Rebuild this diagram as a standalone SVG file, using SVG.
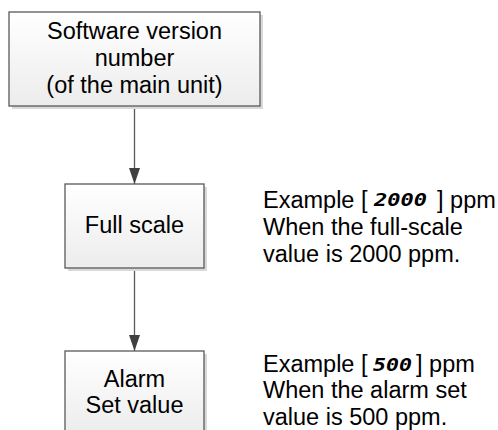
<svg xmlns="http://www.w3.org/2000/svg" width="498" height="430" viewBox="0 0 498 430">
<defs>
<linearGradient id="g" x1="0" y1="0" x2="0" y2="1">
<stop offset="0" stop-color="#ffffff"/>
<stop offset="1" stop-color="#ececec"/>
</linearGradient>
<marker id="ah" markerUnits="userSpaceOnUse" markerWidth="16" markerHeight="11" refX="16" refY="5.5" orient="auto" viewBox="0 0 16 11">
<path d="M0,0 L16,5.5 L0,11 Z" fill="#404040"/>
</marker>
</defs>
<style>
.shadow{fill:#d9d9d9;}
.box{fill:url(#g);stroke:#595959;stroke-width:1.3;}
.t{font-family:"Liberation Sans",Arial,sans-serif;font-size:23.5px;fill:#000;}
.c{text-anchor:middle;}
.seg{font-family:"DejaVu Sans Mono","Liberation Mono",monospace;font-weight:bold;font-style:italic;font-size:17px;fill:#000;}
.conn{stroke:#595959;stroke-width:1.3;fill:none;}
</style>
<g id="connectors">
<line class="conn" x1="134.5" y1="106" x2="134.5" y2="184" marker-end="url(#ah)"/>
<line class="conn" x1="134.5" y1="268" x2="134.5" y2="351" marker-end="url(#ah)"/>
</g>
<g id="node-software">
<rect class="shadow" x="12" y="15" width="251" height="94"/>
<rect class="box" x="9" y="12" width="251" height="94"/>
<text class="t c" x="134.5" y="39">Software version</text>
<text class="t c" x="134.5" y="66">number</text>
<text class="t c" x="134.5" y="93">(of the main unit)</text>
</g>
<g id="node-fullscale">
<rect class="shadow" x="68" y="187" width="139" height="84"/>
<rect class="box" x="65" y="184" width="139" height="84"/>
<text class="t c" x="134.5" y="233">Full scale</text>
</g>
<g id="node-alarm">
<rect class="shadow" x="68" y="354" width="139" height="84"/>
<rect class="box" x="65" y="351" width="139" height="84"/>
<text class="t c" x="134.5" y="387">Alarm</text>
<text class="t c" x="134.5" y="413">Set value</text>
</g>
<g id="note-fullscale">
<text class="t" x="263" y="208">Example [<tspan x="437">] ppm</tspan></text>
<text class="seg" x="374" y="206" textLength="53" lengthAdjust="spacingAndGlyphs">2000</text>
<text class="t" x="263" y="235">When the full-scale</text>
<text class="t" x="263" y="262">value is 2000 ppm.</text>
</g>
<g id="note-alarm">
<text class="t" x="263" y="372">Example [<tspan x="416">] ppm</tspan></text>
<text class="seg" x="373" y="371" textLength="39" lengthAdjust="spacingAndGlyphs">500</text>
<text class="t" x="263" y="398">When the alarm set</text>
<text class="t" x="263" y="425">value is 500 ppm.</text>
</g>
</svg>
